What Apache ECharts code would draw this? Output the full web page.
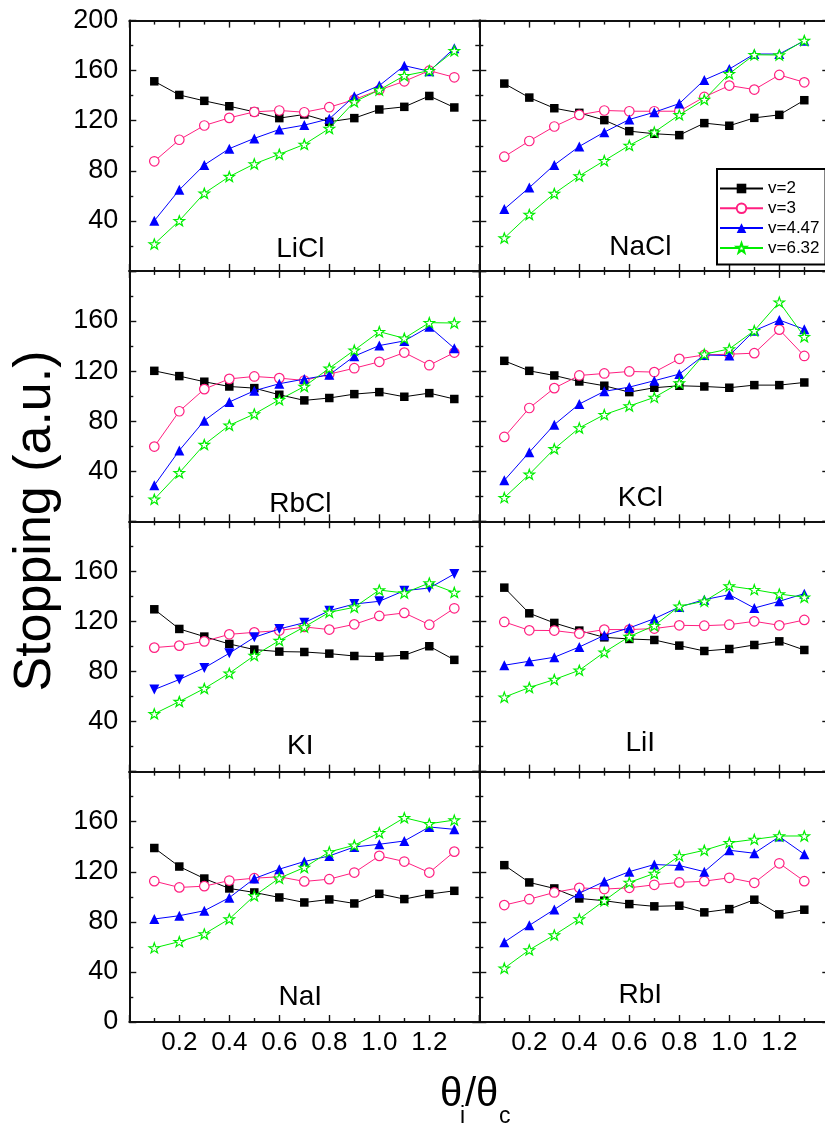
<!DOCTYPE html>
<html>
<head>
<meta charset="utf-8">
<script src="https://cdn.jsdelivr.net/npm/echarts@6/dist/echarts.min.js"></script>
<style>
  html, body { margin: 0; padding: 0; background: #fff; }
  #chart { width: 825px; height: 1132px; }
</style>
</head>
<body>
<div id="chart"></div>
<script>
// ---- data ----------------------------------------------------------------
const thetaRatio = [0.1, 0.2, 0.3, 0.4, 0.5, 0.6, 0.7, 0.8, 0.9, 1.0, 1.1, 1.2, 1.3];
const velocityNames = ['v=2', 'v=3', 'v=4.47', 'v=6.32'];
const crystalNames = ['LiCl', 'NaCl', 'RbCl', 'KCl', 'KI', 'LiI', 'NaI', 'RbI'];
const xTickLabels = ['0.2', '0.4', '0.6', '0.8', '1.0', '1.2'];
const yTicksTopRow = [40, 80, 120, 160, 200];
const yTicksMiddleRows = [40, 80, 120, 160];
const yTicksBottomRow = [0, 40, 80, 120, 160];

const liclV2   = [151.5, 140.6, 135.9, 131.6, 127.1, 122.1, 125.0, 119.2, 122.1, 129.0, 131.1, 139.8, 130.6];
const liclV3   = [87.6, 104.8, 116.2, 122.3, 127.1, 128.2, 126.8, 130.8, 136.9, 144.6, 151.5, 160.0, 154.7];
const liclV447 = [40.1, 64.8, 84.7, 97.7, 105.9, 113.0, 116.5, 121.5, 139.6, 148.1, 164.0, 159.5, 178.0];
const liclV632 = [21.5, 40.1, 62.1, 75.4, 85.5, 93.2, 101.1, 113.8, 135.1, 144.6, 156.0, 160.0, 175.9];

const naclV2   = [149.7, 138.5, 130.0, 126.3, 120.5, 111.7, 109.6, 108.5, 118.1, 116.0, 122.3, 124.7, 136.4];
const naclV3   = [91.3, 103.8, 115.4, 124.7, 128.2, 127.6, 127.6, 127.6, 139.0, 148.1, 144.9, 156.6, 150.7];
const naclV447 = [49.4, 66.6, 84.7, 99.5, 110.9, 121.0, 126.8, 133.7, 152.6, 161.3, 173.3, 173.3, 183.9];
const naclV632 = [26.3, 45.1, 61.9, 75.9, 88.1, 100.3, 110.9, 124.7, 136.9, 157.6, 172.7, 172.5, 184.1];

const rbclV2   = [120.2, 116.0, 111.5, 107.7, 106.4, 101.1, 96.6, 98.5, 101.6, 103.2, 99.5, 102.4, 97.7];
const rbclV3   = [59.7, 87.9, 105.6, 113.8, 115.7, 114.4, 112.5, 117.6, 122.3, 127.4, 134.8, 124.7, 134.8];
const rbclV447 = [28.7, 56.6, 80.4, 95.3, 104.3, 109.9, 113.6, 117.0, 131.9, 140.4, 144.1, 155.5, 138.2];
const rbclV632 = [17.6, 38.8, 61.3, 76.7, 85.7, 97.1, 107.7, 122.3, 136.7, 151.5, 146.2, 158.7, 158.4];

const kclV2    = [128.2, 120.2, 116.5, 111.7, 108.3, 103.2, 106.7, 108.3, 107.7, 106.7, 108.8, 108.8, 110.9];
const kclV3    = [67.4, 90.5, 106.4, 116.5, 118.1, 119.7, 119.2, 129.8, 132.9, 133.5, 134.3, 153.1, 132.1];
const kclV447  = [32.7, 55.2, 77.2, 93.7, 103.8, 107.2, 112.3, 117.6, 132.9, 132.4, 152.3, 160.8, 153.4];
const kclV632  = [18.9, 37.5, 57.9, 74.6, 85.2, 92.1, 99.0, 110.4, 133.5, 137.7, 152.3, 175.1, 147.5];

const kiV2     = [129.7, 114.0, 107.9, 102.0, 97.5, 95.9, 95.6, 94.3, 92.4, 91.9, 93.0, 100.2, 89.3];
const kiV3     = [99.1, 100.7, 104.1, 109.7, 111.3, 112.7, 115.6, 113.5, 117.7, 124.4, 126.8, 117.4, 130.5];
const kiV447   = [65.6, 73.6, 82.9, 94.6, 107.3, 114.0, 119.0, 128.6, 133.9, 136.1, 144.6, 146.7, 157.9];
const kiV632   = [46.2, 56.0, 66.4, 78.6, 92.7, 104.7, 115.6, 127.3, 131.3, 145.1, 142.7, 150.7, 143.2];

const liiV2    = [147.0, 126.5, 118.8, 112.7, 107.3, 106.0, 105.2, 100.7, 96.4, 98.0, 101.2, 104.1, 97.2];
const liiV3    = [119.6, 112.9, 112.7, 110.3, 113.5, 113.5, 114.3, 116.9, 116.6, 117.4, 120.1, 116.9, 121.2];
const liiV447  = [85.0, 88.2, 91.4, 99.6, 108.9, 114.8, 122.2, 131.5, 137.4, 141.4, 130.7, 136.1, 142.2];
const liiV632  = [59.5, 67.2, 73.6, 81.0, 95.4, 107.9, 116.6, 132.1, 136.1, 148.3, 145.4, 141.9, 139.3];

const naiV2    = [139.0, 124.2, 114.6, 106.7, 103.5, 99.5, 95.5, 97.9, 94.7, 102.4, 98.2, 102.2, 104.8];
const naiV3    = [112.5, 107.5, 108.5, 113.0, 114.9, 116.0, 112.3, 114.1, 119.4, 132.7, 128.2, 119.4, 136.1];
const naiV447  = [82.3, 84.9, 88.9, 99.3, 114.6, 122.1, 128.2, 132.7, 139.8, 142.0, 144.6, 155.8, 153.9];
const naiV632  = [59.2, 64.2, 70.3, 82.3, 100.8, 114.9, 123.4, 135.9, 141.2, 151.2, 163.2, 158.4, 161.3];

const rbiV2    = [125.3, 111.5, 106.7, 98.7, 96.9, 94.2, 92.4, 92.9, 87.6, 90.2, 97.7, 86.0, 89.7];
const rbiV3    = [93.4, 98.1, 103.5, 107.2, 106.2, 107.2, 109.6, 111.5, 112.5, 115.2, 111.2, 126.8, 112.5];
const rbiV447  = [63.8, 77.2, 89.9, 102.9, 112.2, 120.1, 125.8, 125.0, 120.1, 137.2, 134.8, 148.1, 134.0];
const rbiV632  = [43.0, 57.6, 69.5, 82.3, 96.9, 111.5, 118.7, 132.7, 137.2, 143.3, 145.9, 148.6, 148.6];

const panelValues = [
  [liclV2, liclV3, liclV447, liclV632],
  [naclV2, naclV3, naclV447, naclV632],
  [rbclV2, rbclV3, rbclV447, rbclV632],
  [kclV2, kclV3, kclV447, kclV632],
  [kiV2, kiV3, kiV447, kiV632],
  [liiV2, liiV3, liiV447, liiV632],
  [naiV2, naiV3, naiV447, naiV632],
  [rbiV2, rbiV3, rbiV447, rbiV632]
];

// ---- layout & style ------------------------------------------------------
const FONT = '"Liberation Sans", Arial, Helvetica, sans-serif';
const FRAME = '#111';
const COL_LEFT = [129.3, 479.3];
const COL_WIDTH = 350;
const ROW_TOP = 20.6;
const ROW_HEIGHT = 250.35;

const STAR = 'path://M0,-10L2.35,-3.24L9.51,-3.09L3.8,1.24L5.88,8.09L0,4L-5.88,8.09L-3.8,1.24L-9.51,-3.09L-2.35,-3.24Z';
const seriesStyles = [
  { stroke: '#000000', fill: '#000000', symbol: 'rect', size: 8.5 },
  { stroke: '#ff1f80', fill: '#ffffff', symbol: 'circle', size: 9.5 },
  { stroke: '#0000ff', fill: '#0000ff', symbol: 'triangle', size: 10 },
  { stroke: '#00ee00', fill: '#ffffff', symbol: STAR, size: 10.5 }
];

// panel label anchors (centre of text) relative to each panel
const labelDx = [171, 161];
const labelDyFromBottom = [[22, 24], [17, 23], [25, 28], [25, 27]];

const grids = [], xAxes = [], yAxes = [], series = [], graphics = [];

function xAxis(gridIndex, position, showLabels) {
  return {
    type: 'value', gridIndex, position, min: 0, max: 1.4, interval: 0.2,
    axisLine: { show: true, onZero: false, lineStyle: { color: FRAME, width: 2 } },
    axisTick: { show: true, inside: true, length: 7, lineStyle: { color: FRAME, width: 1.4 } },
    minorTick: { show: true, splitNumber: 2, length: 4, lineStyle: { color: FRAME, width: 1.4 } },
    splitLine: { show: false }, minorSplitLine: { show: false },
    axisLabel: {
      show: showLabels, margin: 8, fontSize: 26, color: '#000', fontFamily: FONT,
      formatter: v => { const s = v.toFixed(1); return xTickLabels.includes(s) ? s : ''; }
    }
  };
}

function yAxis(gridIndex, position, labelList) {
  return {
    type: 'value', gridIndex, position, min: 0, max: 200, interval: 40,
    axisLine: { show: true, onZero: false, lineStyle: { color: FRAME, width: 2 } },
    axisTick: { show: true, inside: true, length: 7, lineStyle: { color: FRAME, width: 1.4 } },
    minorTick: { show: true, splitNumber: 2, length: 4, lineStyle: { color: FRAME, width: 1.4 } },
    splitLine: { show: false }, minorSplitLine: { show: false },
    axisLabel: {
      show: !!labelList, margin: 11, fontSize: 27, color: '#000', fontFamily: FONT,
      formatter: v => (labelList && labelList.includes(v)) ? String(v) : ''
    }
  };
}

crystalNames.forEach((name, p) => {
  const row = Math.floor(p / 2), col = p % 2;
  const top = ROW_TOP + row * ROW_HEIGHT;
  grids.push({ left: COL_LEFT[col], top, width: COL_WIDTH, height: ROW_HEIGHT, outerBoundsMode: 'none' });

  // bottom + top x axes, left + right y axes
  xAxes.push(xAxis(p, 'bottom', row === 3));
  xAxes.push(xAxis(p, 'top', false));
  let ticks = null;
  if (col === 0) ticks = row === 0 ? yTicksTopRow : (row === 3 ? yTicksBottomRow : yTicksMiddleRows);
  yAxes.push(yAxis(p, 'left', ticks));
  yAxes.push(yAxis(p, 'right', null));

  panelValues[p].forEach((vals, s) => {
    const st = seriesStyles[s];
    const downTriangle = name === 'KI' && s === 2;
    series.push({
      type: 'line', name: velocityNames[s],
      xAxisIndex: 2 * p, yAxisIndex: 2 * p,
      data: thetaRatio.map((x, i) => [x, vals[i]]),
      symbol: st.symbol, symbolSize: st.size, symbolRotate: downTriangle ? 180 : 0,
      symbolKeepAspect: true, showAllSymbol: true,
      lineStyle: { color: st.stroke, width: 1 },
      itemStyle: { color: st.fill, borderColor: st.stroke, borderWidth: st.fill === '#ffffff' ? 1.2 : 0 },
      emphasis: { disabled: true }, silent: true, z: 3 + s
    });
  });

  graphics.push({
    type: 'text',
    x: COL_LEFT[col] + labelDx[col],
    y: top + ROW_HEIGHT - labelDyFromBottom[row][col],
    style: { text: name, fontSize: 28, fontFamily: FONT, fill: '#000', align: 'center', verticalAlign: 'middle' }
  });
});

// axis titles
graphics.push({
  type: 'text', x: 36, y: 521, rotation: Math.PI / 2,
  style: { text: 'Stopping (a.u.)', fontSize: 52, fontFamily: FONT, fill: '#000', align: 'center', verticalAlign: 'middle' }
});
const titleParts = [
  { t: '\u03b8', x: 440, y: 1095, size: 40 },
  { t: 'i', x: 460, y: 1117, size: 23 },
  { t: '/\u03b8', x: 465, y: 1095, size: 40 },
  { t: 'c', x: 499, y: 1117, size: 23 }
];
titleParts.forEach(part => graphics.push({
  type: 'text', x: part.x, y: part.y,
  style: { text: part.t, fontSize: part.size, fontFamily: FONT, fill: '#000', align: 'left', verticalAlign: 'middle' }
}));

const chart = echarts.init(document.getElementById('chart'), null, { renderer: 'canvas' });
chart.setOption({
  animation: false,
  backgroundColor: '#fff',
  grid: grids,
  xAxis: xAxes,
  yAxis: yAxes,
  series,
  legend: {
    data: velocityNames, orient: 'vertical', left: 717, top: 169,
    padding: [11, 6, 8, 2], itemWidth: 43, itemHeight: 12, itemGap: 2.8,
    borderColor: '#000', borderWidth: 2, backgroundColor: '#fff',
    selectedMode: false, z: 10,
    textStyle: { fontSize: 17, lineHeight: 17, color: '#000', fontFamily: FONT }
  },
  graphic: graphics
});
</script>
</body>
</html>
